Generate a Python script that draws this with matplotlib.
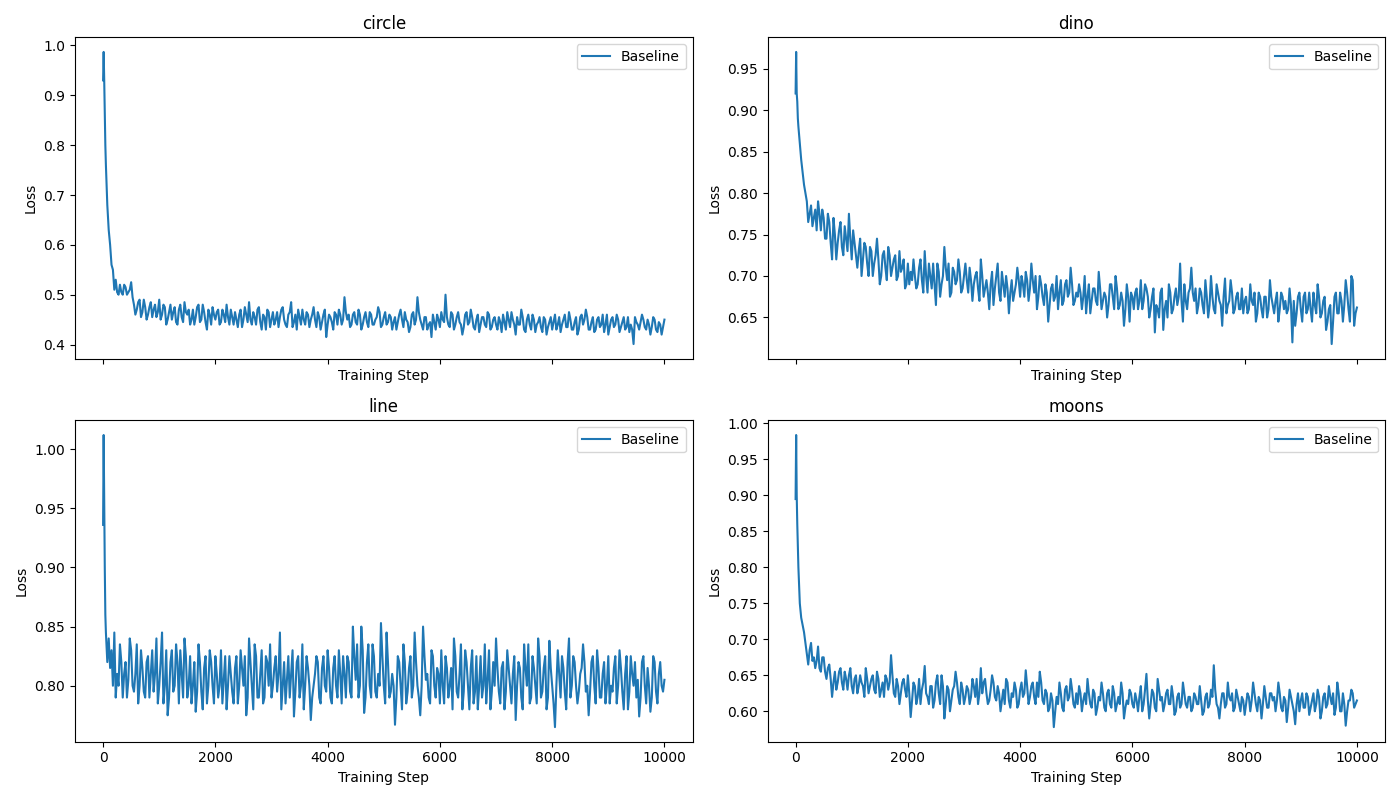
import numpy as np
import matplotlib
matplotlib.use("Agg")
import matplotlib.pyplot as plt

# Training steps: fine at the start, then every 50 steps (main readings)
steps_early = [0, 10, 20, 30, 40, 50, 75, 100, 125, 150, 175, 200]
steps_main = np.concatenate([steps_early, np.arange(250, 10001, 50)])
# In-between readings at 225, 275, ..., 9975
steps_mid = np.arange(225, 10000, 50)

datasets = ["circle", "dino", "line", "moons"]
series_label = "Baseline"

loss_circle = [
    0.93, 0.987, 0.93, 0.86, 0.80, 0.76, 0.68, 0.63, 0.60, 0.56, 0.55, 0.51,
    0.505, 0.52, 0.50, 0.515, 0.505, 0.525, 0.48, 0.47, 0.49, 0.465, 0.475, 0.46, 0.485, 0.47, 0.455, 0.49,
    0.46, 0.475, 0.45, 0.48, 0.465, 0.445, 0.47, 0.455, 0.485, 0.46, 0.44, 0.47, 0.455, 0.48, 0.45, 0.465, 0.43, 0.46, 0.475, 0.45,
    0.47, 0.445, 0.46, 0.48, 0.44, 0.455, 0.465, 0.435, 0.47, 0.45, 0.46, 0.485, 0.44, 0.455, 0.47, 0.445, 0.46, 0.43, 0.465, 0.45,
    0.44, 0.465, 0.455, 0.475, 0.44, 0.46, 0.485, 0.445, 0.43, 0.455, 0.47, 0.44, 0.46, 0.45, 0.475, 0.435, 0.455, 0.445, 0.47, 0.44,
    0.455, 0.43, 0.46, 0.47, 0.44, 0.495, 0.45, 0.435, 0.46, 0.445, 0.47, 0.43, 0.455, 0.445, 0.465, 0.44, 0.45, 0.475, 0.435, 0.455,
    0.44, 0.46, 0.43, 0.455, 0.445, 0.47, 0.435, 0.45, 0.425, 0.46, 0.44, 0.495, 0.45, 0.43, 0.455, 0.44, 0.415, 0.445, 0.46, 0.435,
    0.45, 0.50, 0.44, 0.465, 0.43, 0.455, 0.445, 0.42, 0.46, 0.44, 0.47, 0.435, 0.45, 0.425, 0.455, 0.44, 0.465, 0.43, 0.45, 0.44,
    0.455, 0.425, 0.445, 0.465, 0.435, 0.45, 0.42, 0.44, 0.47, 0.43, 0.45, 0.44, 0.46, 0.425, 0.445, 0.435, 0.455, 0.42, 0.445, 0.43,
    0.46, 0.44, 0.425, 0.45, 0.435, 0.465, 0.43, 0.445, 0.42, 0.455, 0.44, 0.47, 0.43, 0.445, 0.425, 0.45, 0.435, 0.46, 0.44, 0.42,
    0.45, 0.435, 0.46, 0.425, 0.445, 0.43, 0.455, 0.44, 0.401, 0.445, 0.43, 0.46, 0.435, 0.45, 0.42, 0.455, 0.43, 0.445, 0.42, 0.45,
]
loss_circle_mid = [
    0.53, 0.50, 0.505, 0.52, 0.50, 0.51, 0.495, 0.46, 0.485, 0.455, 0.49, 0.45, 0.475, 0.455, 0.48, 0.465,
    0.45, 0.48, 0.44, 0.465, 0.45, 0.475, 0.44, 0.48, 0.445, 0.465, 0.47, 0.45, 0.44, 0.475, 0.445, 0.48, 0.445, 0.47, 0.44, 0.46,
    0.465, 0.44, 0.47, 0.445, 0.455, 0.47, 0.44, 0.45, 0.46, 0.435, 0.475, 0.445, 0.45, 0.465, 0.44, 0.475, 0.43, 0.455, 0.47, 0.435,
    0.465, 0.45, 0.435, 0.47, 0.45, 0.435, 0.465, 0.435, 0.46, 0.47, 0.44, 0.45, 0.465, 0.435, 0.46, 0.45, 0.465, 0.43, 0.46, 0.415,
    0.46, 0.445, 0.465, 0.44, 0.46, 0.45, 0.465, 0.46, 0.44, 0.465, 0.44, 0.46, 0.44, 0.465, 0.435, 0.46, 0.44, 0.455, 0.465, 0.44,
    0.465, 0.445, 0.455, 0.445, 0.43, 0.46, 0.45, 0.465, 0.445, 0.435, 0.465, 0.45, 0.465, 0.44, 0.455, 0.43, 0.445, 0.46, 0.43, 0.45,
    0.465, 0.445, 0.455, 0.435, 0.46, 0.44, 0.465, 0.44, 0.435, 0.465, 0.445, 0.455, 0.43, 0.46, 0.44, 0.455, 0.435, 0.46, 0.435, 0.455,
    0.43, 0.445, 0.46, 0.43, 0.45, 0.465, 0.44, 0.455, 0.44, 0.455, 0.425, 0.46, 0.43, 0.45, 0.44, 0.455, 0.425, 0.45, 0.435, 0.455,
    0.445, 0.43, 0.455, 0.44, 0.46, 0.435, 0.45, 0.43, 0.455, 0.43, 0.46, 0.45, 0.455, 0.43, 0.455, 0.43, 0.455, 0.44, 0.425, 0.46,
    0.435, 0.455, 0.44, 0.45, 0.435, 0.455, 0.435, 0.425, 0.43, 0.455, 0.44, 0.445, 0.45, 0.43, 0.44, 0.435, 0.45, 0.425, 0.44, 0.435,
]

loss_dino = [
    0.92, 0.97, 0.92, 0.91, 0.89, 0.88, 0.86, 0.84, 0.825, 0.81, 0.80, 0.79,
    0.775, 0.76, 0.78, 0.79, 0.755, 0.77, 0.745, 0.765, 0.72, 0.75, 0.74, 0.765, 0.725, 0.745, 0.775, 0.72,
    0.74, 0.71, 0.745, 0.72, 0.735, 0.70, 0.73, 0.715, 0.745, 0.69, 0.725, 0.71, 0.735, 0.70, 0.72, 0.695, 0.73, 0.71, 0.685, 0.715,
    0.705, 0.72, 0.685, 0.71, 0.695, 0.73, 0.68, 0.70, 0.715, 0.665, 0.705, 0.69, 0.735, 0.695, 0.675, 0.71, 0.69, 0.72, 0.68, 0.70,
    0.695, 0.71, 0.67, 0.70, 0.685, 0.72, 0.675, 0.695, 0.66, 0.705, 0.685, 0.715, 0.67, 0.69, 0.70, 0.655, 0.695, 0.68, 0.71, 0.675,
    0.69, 0.705, 0.67, 0.715, 0.68, 0.66, 0.70, 0.675, 0.69, 0.645, 0.685, 0.67, 0.70, 0.68, 0.665, 0.69, 0.675, 0.71, 0.665, 0.68,
    0.69, 0.66, 0.70, 0.675, 0.655, 0.685, 0.67, 0.705, 0.66, 0.68, 0.65, 0.69, 0.675, 0.70, 0.66, 0.68, 0.64, 0.69, 0.645, 0.675,
    0.68, 0.66, 0.695, 0.67, 0.685, 0.65, 0.675, 0.632, 0.66, 0.68, 0.635, 0.67, 0.69, 0.655, 0.675, 0.665, 0.715, 0.645, 0.67, 0.68,
    0.71, 0.67, 0.655, 0.685, 0.665, 0.695, 0.65, 0.70, 0.66, 0.69, 0.67, 0.64, 0.697, 0.665, 0.695, 0.655, 0.675, 0.66, 0.685, 0.67,
    0.655, 0.69, 0.665, 0.645, 0.68, 0.66, 0.675, 0.65, 0.695, 0.665, 0.67, 0.645, 0.68, 0.66, 0.655, 0.685, 0.62, 0.64, 0.675, 0.66,
    0.675, 0.655, 0.68, 0.645, 0.665, 0.69, 0.65, 0.67, 0.635, 0.66, 0.618, 0.675, 0.655, 0.68, 0.645, 0.695, 0.66, 0.70, 0.64, 0.662,
]
loss_dino_mid = [
    0.765, 0.785, 0.77, 0.755, 0.775, 0.78, 0.745, 0.775, 0.74, 0.77, 0.72, 0.755, 0.735, 0.76, 0.73, 0.745,
    0.755, 0.725, 0.73, 0.70, 0.74, 0.715, 0.735, 0.70, 0.725, 0.72, 0.70, 0.73, 0.695, 0.725, 0.71, 0.725, 0.70, 0.705, 0.72, 0.69,
    0.69, 0.695, 0.70, 0.69, 0.72, 0.68, 0.70, 0.715, 0.685, 0.69, 0.715, 0.675, 0.70, 0.71, 0.715, 0.68, 0.705, 0.695, 0.705, 0.685,
    0.715, 0.68, 0.695, 0.69, 0.705, 0.67, 0.70, 0.685, 0.68, 0.69, 0.665, 0.70, 0.68, 0.705, 0.675, 0.685, 0.68, 0.67, 0.69, 0.695,
    0.70, 0.675, 0.695, 0.685, 0.695, 0.70, 0.675, 0.69, 0.665, 0.68, 0.665, 0.69, 0.675, 0.66, 0.695, 0.67, 0.695, 0.68, 0.69, 0.67,
    0.675, 0.68, 0.675, 0.655, 0.69, 0.67, 0.685, 0.665, 0.685, 0.67, 0.675, 0.665, 0.69, 0.66, 0.685, 0.665, 0.67, 0.66, 0.675, 0.68,
    0.66, 0.685, 0.67, 0.66, 0.69, 0.675, 0.66, 0.685, 0.665, 0.65, 0.685, 0.66, 0.65, 0.68, 0.66, 0.685, 0.675, 0.67, 0.69, 0.66,
    0.685, 0.68, 0.685, 0.665, 0.68, 0.655, 0.675, 0.665, 0.675, 0.655, 0.68, 0.665, 0.675, 0.655, 0.67, 0.68, 0.66, 0.68, 0.66, 0.655,
    0.675, 0.66, 0.67, 0.68, 0.655, 0.675, 0.65, 0.675, 0.66, 0.675, 0.655, 0.68, 0.66, 0.675, 0.67, 0.66, 0.665, 0.67, 0.655, 0.68,
    0.645, 0.68, 0.66, 0.66, 0.68, 0.655, 0.675, 0.655, 0.675, 0.645, 0.665, 0.645, 0.68, 0.655, 0.67, 0.665, 0.68, 0.645, 0.695, 0.655,
]

loss_line = [
    0.936, 1.012, 0.95, 0.90, 0.86, 0.845, 0.82, 0.84, 0.815, 0.83, 0.80, 0.845,
    0.81, 0.835, 0.79, 0.82, 0.805, 0.83, 0.795, 0.835, 0.80, 0.815, 0.79, 0.825, 0.81, 0.795, 0.84, 0.80,
    0.845, 0.80, 0.775, 0.82, 0.795, 0.835, 0.785, 0.81, 0.84, 0.79, 0.825, 0.80, 0.778, 0.835, 0.795, 0.815, 0.785, 0.83, 0.80, 0.825,
    0.79, 0.83, 0.805, 0.78, 0.825, 0.795, 0.815, 0.785, 0.83, 0.80, 0.775, 0.84, 0.80, 0.835, 0.79, 0.81, 0.785, 0.825, 0.80, 0.79,
    0.815, 0.795, 0.845, 0.80, 0.785, 0.825, 0.81, 0.774, 0.82, 0.79, 0.835, 0.80, 0.815, 0.771, 0.80, 0.825, 0.79, 0.815, 0.80, 0.83,
    0.79, 0.815, 0.80, 0.83, 0.785, 0.81, 0.825, 0.795, 0.85, 0.805, 0.79, 0.85, 0.777, 0.82, 0.80, 0.835, 0.795, 0.81, 0.853, 0.80,
    0.845, 0.79, 0.81, 0.767, 0.825, 0.80, 0.835, 0.785, 0.815, 0.79, 0.845, 0.80, 0.775, 0.85, 0.805, 0.79, 0.83, 0.80, 0.815, 0.785,
    0.80, 0.825, 0.79, 0.815, 0.84, 0.795, 0.81, 0.78, 0.83, 0.80, 0.815, 0.785, 0.825, 0.80, 0.79, 0.835, 0.805, 0.78, 0.82, 0.84,
    0.795, 0.815, 0.78, 0.83, 0.80, 0.81, 0.771, 0.82, 0.79, 0.835, 0.80, 0.785, 0.825, 0.80, 0.84, 0.79, 0.815, 0.78, 0.838, 0.80,
    0.765, 0.83, 0.79, 0.815, 0.78, 0.84, 0.80, 0.82, 0.785, 0.81, 0.835, 0.795, 0.775, 0.82, 0.80, 0.83, 0.79, 0.81, 0.785, 0.825,
    0.80, 0.815, 0.785, 0.83, 0.795, 0.81, 0.78, 0.825, 0.80, 0.79, 0.774, 0.82, 0.80, 0.815, 0.778, 0.825, 0.795, 0.81, 0.80, 0.805,
]
loss_line_mid = [
    0.79, 0.80, 0.82, 0.81, 0.79, 0.84, 0.80, 0.81, 0.785, 0.83, 0.795, 0.82, 0.79, 0.83, 0.81, 0.785,
    0.82, 0.785, 0.83, 0.79, 0.83, 0.80, 0.82, 0.83, 0.79, 0.825, 0.80, 0.785, 0.82, 0.795, 0.82, 0.78, 0.825, 0.80, 0.82, 0.785,
    0.81, 0.80, 0.785, 0.825, 0.80, 0.81, 0.785, 0.825, 0.80, 0.815, 0.825, 0.79, 0.82, 0.78, 0.825, 0.79, 0.83, 0.79, 0.82, 0.835,
    0.80, 0.825, 0.81, 0.78, 0.82, 0.805, 0.79, 0.83, 0.795, 0.825, 0.80, 0.78, 0.825, 0.80, 0.79, 0.81, 0.82, 0.785, 0.825, 0.795,
    0.815, 0.785, 0.825, 0.79, 0.81, 0.825, 0.79, 0.82, 0.79, 0.825, 0.835, 0.80, 0.83, 0.79, 0.835, 0.79, 0.825, 0.79, 0.80, 0.825,
    0.785, 0.82, 0.795, 0.80, 0.79, 0.82, 0.78, 0.82, 0.795, 0.825, 0.80, 0.82, 0.79, 0.80, 0.825, 0.81, 0.785, 0.825, 0.79, 0.81,
    0.83, 0.785, 0.815, 0.80, 0.78, 0.825, 0.79, 0.835, 0.795, 0.82, 0.78, 0.83, 0.795, 0.78, 0.825, 0.80, 0.785, 0.83, 0.795, 0.80,
    0.815, 0.785, 0.82, 0.795, 0.815, 0.785, 0.825, 0.80, 0.815, 0.78, 0.815, 0.835, 0.79, 0.815, 0.785, 0.825, 0.795, 0.825, 0.79, 0.815,
    0.785, 0.80, 0.81, 0.825, 0.795, 0.82, 0.79, 0.825, 0.80, 0.795, 0.815, 0.82, 0.80, 0.795, 0.825, 0.785, 0.815, 0.79, 0.82, 0.80,
    0.785, 0.795, 0.825, 0.80, 0.815, 0.78, 0.825, 0.795, 0.81, 0.82, 0.805, 0.79, 0.825, 0.785, 0.80, 0.79, 0.82, 0.785, 0.82, 0.795,
]

loss_moons = [
    0.895, 0.984, 0.90, 0.86, 0.83, 0.80, 0.75, 0.73, 0.72, 0.71, 0.695, 0.68,
    0.685, 0.67, 0.66, 0.69, 0.655, 0.675, 0.645, 0.665, 0.62, 0.655, 0.64, 0.66, 0.63, 0.645, 0.65, 0.635,
    0.645, 0.625, 0.65, 0.635, 0.66, 0.625, 0.645, 0.63, 0.655, 0.62, 0.64, 0.65, 0.63, 0.678, 0.625, 0.645, 0.61, 0.64, 0.63, 0.65,
    0.592, 0.64, 0.61, 0.645, 0.63, 0.663, 0.62, 0.635, 0.605, 0.64, 0.625, 0.65, 0.59, 0.635, 0.60, 0.63, 0.655, 0.62, 0.64, 0.61,
    0.635, 0.61, 0.645, 0.62, 0.61, 0.66, 0.64, 0.625, 0.615, 0.65, 0.62, 0.635, 0.60, 0.63, 0.645, 0.615, 0.625, 0.64, 0.605, 0.63,
    0.62, 0.657, 0.61, 0.635, 0.62, 0.64, 0.655, 0.615, 0.63, 0.60, 0.625, 0.578, 0.62, 0.64, 0.605, 0.63, 0.615, 0.645, 0.61, 0.625,
    0.635, 0.60, 0.625, 0.645, 0.61, 0.63, 0.595, 0.62, 0.64, 0.605, 0.625, 0.61, 0.635, 0.60, 0.62, 0.64, 0.59, 0.615, 0.63, 0.61,
    0.625, 0.60, 0.635, 0.61, 0.652, 0.59, 0.63, 0.605, 0.645, 0.615, 0.60, 0.625, 0.61, 0.635, 0.595, 0.62, 0.605, 0.64, 0.61, 0.62,
    0.60, 0.625, 0.61, 0.635, 0.595, 0.62, 0.605, 0.63, 0.664, 0.61, 0.59, 0.625, 0.605, 0.64, 0.615, 0.60, 0.63, 0.61, 0.62, 0.595,
    0.625, 0.60, 0.64, 0.61, 0.62, 0.59, 0.635, 0.605, 0.625, 0.615, 0.60, 0.64, 0.605, 0.62, 0.585, 0.63, 0.61, 0.582, 0.625, 0.615,
    0.605, 0.625, 0.595, 0.615, 0.60, 0.63, 0.59, 0.62, 0.605, 0.635, 0.61, 0.595, 0.64, 0.60, 0.625, 0.58, 0.615, 0.63, 0.605, 0.615,
]
loss_moons_mid = [
    0.665, 0.695, 0.675, 0.67, 0.66, 0.675, 0.655, 0.66, 0.645, 0.64, 0.63, 0.655, 0.64, 0.655, 0.63, 0.66,
    0.625, 0.65, 0.635, 0.64, 0.62, 0.645, 0.635, 0.65, 0.625, 0.645, 0.63, 0.62, 0.645, 0.64, 0.65, 0.62, 0.635, 0.625, 0.645, 0.62,
    0.625, 0.615, 0.635, 0.62, 0.61, 0.64, 0.625, 0.61, 0.635, 0.615, 0.65, 0.61, 0.635, 0.61, 0.63, 0.615, 0.635, 0.64, 0.61, 0.63,
    0.62, 0.63, 0.62, 0.635, 0.645, 0.625, 0.625, 0.645, 0.61, 0.63, 0.64, 0.615, 0.625, 0.615, 0.61, 0.64, 0.605, 0.62, 0.63, 0.61,
    0.64, 0.625, 0.635, 0.62, 0.64, 0.61, 0.62, 0.64, 0.61, 0.625, 0.605, 0.615, 0.60, 0.61, 0.625, 0.60, 0.635, 0.62, 0.63, 0.605,
    0.61, 0.625, 0.615, 0.61, 0.625, 0.605, 0.625, 0.605, 0.615, 0.625, 0.60, 0.63, 0.605, 0.625, 0.61, 0.61, 0.625, 0.605, 0.61, 0.625,
    0.605, 0.615, 0.62, 0.60, 0.63, 0.615, 0.61, 0.625, 0.60, 0.63, 0.62, 0.61, 0.63, 0.61, 0.62, 0.60, 0.625, 0.61, 0.625, 0.605,
    0.62, 0.605, 0.62, 0.61, 0.615, 0.60, 0.625, 0.61, 0.62, 0.63, 0.605, 0.61, 0.625, 0.61, 0.62, 0.625, 0.605, 0.62, 0.60, 0.615,
    0.61, 0.62, 0.615, 0.625, 0.60, 0.615, 0.61, 0.62, 0.605, 0.625, 0.62, 0.615, 0.625, 0.60, 0.615, 0.605, 0.62, 0.60, 0.61, 0.60,
    0.625, 0.605, 0.62, 0.605, 0.625, 0.61, 0.62, 0.60, 0.625, 0.61, 0.62, 0.625, 0.605, 0.625, 0.60, 0.61, 0.60, 0.615, 0.625, 0.61,
]

losses = {
    "circle": (loss_circle, loss_circle_mid),
    "dino": (loss_dino, loss_dino_mid),
    "line": (loss_line, loss_line_mid),
    "moons": (loss_moons, loss_moons_mid),
}

fig, axes = plt.subplots(2, 2, figsize=(14, 8), dpi=100, sharex=True)
for ax, name in zip(axes.flat, datasets):
    main, mid = losses[name]
    assert len(main) == len(steps_main), (name, len(main))
    assert len(mid) == len(steps_mid), (name, len(mid))
    x = np.concatenate([steps_main, steps_mid])
    y = np.concatenate([main, mid])
    order = np.argsort(x, kind="stable")
    ax.plot(x[order], y[order], label=series_label, color="#1f77b4")
    ax.set_title(name)
    ax.set_xlabel("Training Step")
    ax.set_ylabel("Loss")
    ax.legend(loc="upper right")

fig.tight_layout()
fig.savefig("out.png", dpi=100)
